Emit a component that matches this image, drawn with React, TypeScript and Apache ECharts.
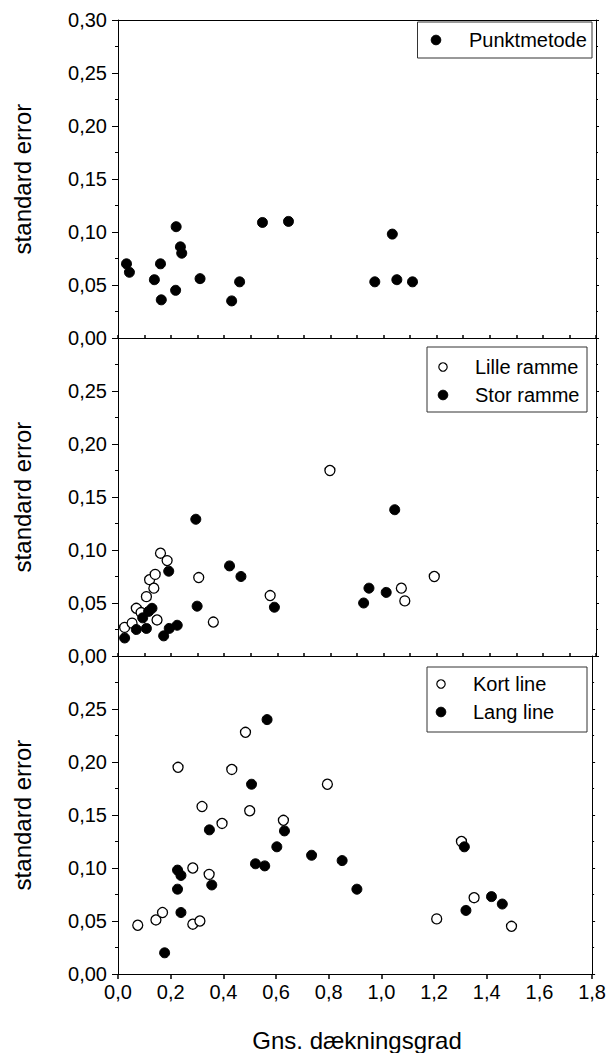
import React, { useEffect, useRef } from "react";
import * as echarts from "echarts";

// ---- Data ----
const punktX = [0.032, 0.043, 0.137, 0.16, 0.163, 0.217, 0.219, 0.235, 0.24, 0.309, 0.428, 0.458, 0.544, 0.642, 0.967, 1.033, 1.05, 1.109];
const punktY = [0.07, 0.062, 0.055, 0.07, 0.036, 0.045, 0.105, 0.086, 0.08, 0.056, 0.035, 0.053, 0.109, 0.11, 0.053, 0.098, 0.055, 0.053];

const lilleX = [0.025, 0.053, 0.069, 0.087, 0.107, 0.119, 0.135, 0.14, 0.147, 0.16, 0.185, 0.304, 0.359, 0.573, 0.798, 1.067, 1.08, 1.191];
const lilleY = [0.027, 0.031, 0.045, 0.041, 0.056, 0.072, 0.064, 0.077, 0.034, 0.097, 0.09, 0.074, 0.032, 0.057, 0.175, 0.064, 0.052, 0.075];

const storX = [0.025, 0.069, 0.093, 0.107, 0.115, 0.128, 0.172, 0.191, 0.193, 0.223, 0.293, 0.298, 0.42, 0.463, 0.589, 0.925, 0.945, 1.01, 1.042];
const storY = [0.017, 0.025, 0.036, 0.026, 0.042, 0.045, 0.019, 0.08, 0.026, 0.029, 0.129, 0.047, 0.085, 0.075, 0.046, 0.05, 0.064, 0.06, 0.138];

const kortX = [0.075, 0.144, 0.169, 0.228, 0.284, 0.284, 0.311, 0.319, 0.346, 0.395, 0.432, 0.484, 0.5, 0.628, 0.795, 1.21, 1.304, 1.352, 1.494];
const kortY = [0.046, 0.051, 0.058, 0.195, 0.1, 0.047, 0.05, 0.158, 0.094, 0.142, 0.193, 0.228, 0.154, 0.145, 0.179, 0.052, 0.125, 0.072, 0.045];

const langX = [0.177, 0.226, 0.226, 0.239, 0.239, 0.347, 0.356, 0.507, 0.522, 0.557, 0.566, 0.603, 0.632, 0.735, 0.851, 0.907, 1.315, 1.321, 1.418, 1.459];
const langY = [0.02, 0.098, 0.08, 0.093, 0.058, 0.136, 0.084, 0.179, 0.104, 0.102, 0.24, 0.12, 0.135, 0.112, 0.107, 0.08, 0.12, 0.06, 0.073, 0.066];

const xTicks = { min: 0, max: 1.8, interval: 0.2 };
const yTicks = { min: 0, max: 0.3, interval: 0.05 };

const yTitle = "standard error";
const xTitle = "Gns. dækningsgrad";

const FONT = "'Liberation Sans', Arial, Helvetica, sans-serif";

const zip = (xs: number[], ys: number[]) => xs.map((x, i) => [x, ys[i]]);

const GRID_LEFT = 118;
const GRID_W = 478;
const GRID_TOPS = [20, 338, 656];
const GRID_H = 318;

export default function App() {
  const ref = useRef<HTMLDivElement>(null);

  useEffect(() => {
    document.body.style.margin = "0";
    if (!ref.current) return;
    const chart = echarts.init(ref.current, undefined, { renderer: "svg" });

    const grids = GRID_TOPS.map((t) => ({ left: GRID_LEFT, top: t, width: GRID_W, height: GRID_H }));

    const xAxes: any[] = [];
    const yAxes: any[] = [];
    GRID_TOPS.forEach((_, i) => {
      const isBottom = i === 2;
      xAxes.push({
        type: "value",
        gridIndex: i,
        position: "bottom",
        min: xTicks.min,
        max: xTicks.max,
        interval: xTicks.interval,
        axisLine: { show: true, onZero: false, lineStyle: { color: "#000", width: 1 } },
        axisTick: { show: true, inside: !isBottom, length: isBottom ? 5 : 3, lineStyle: { color: "#000", width: 1.5 } },
        minorTick: { show: !isBottom, splitNumber: 2, length: 3, lineStyle: { color: "#000", width: 1.5 } },
        splitLine: { show: false },
        axisLabel: {
          show: isBottom,
          margin: 8,
          color: "#000",
          fontFamily: FONT,
          fontSize: 20,
          formatter: (v: number) => v.toFixed(1).replace(".", ","),
        },
      });
      xAxes.push({
        type: "value",
        gridIndex: i,
        position: "top",
        min: xTicks.min,
        max: xTicks.max,
        interval: xTicks.interval,
        axisLine: { show: true, onZero: false, lineStyle: { color: "#000", width: 1 } },
        axisTick: { show: false },
        axisLabel: { show: false },
        splitLine: { show: false },
      });
      yAxes.push({
        type: "value",
        gridIndex: i,
        position: "left",
        min: yTicks.min,
        max: yTicks.max,
        interval: yTicks.interval,
        axisLine: { show: true, onZero: false, lineStyle: { color: "#000", width: 1 } },
        axisTick: { show: true, inside: false, length: 6, lineStyle: { color: "#000", width: 1 } },
        minorTick: { show: true, splitNumber: 2, length: 3, lineStyle: { color: "#000", width: 1 } },
        splitLine: { show: false },
        axisLabel: {
          margin: 11,
          color: "#000",
          fontFamily: FONT,
          fontSize: 20,
          formatter: (v: number) => (i > 0 && v > 0.299 ? "" : v.toFixed(2).replace(".", ",")),
        },
      });
      yAxes.push({
        type: "value",
        gridIndex: i,
        position: "right",
        min: yTicks.min,
        max: yTicks.max,
        interval: yTicks.interval,
        axisLine: { show: true, onZero: false, lineStyle: { color: "#000", width: 1 } },
        axisTick: { show: true, inside: false, length: 3, lineStyle: { color: "#000", width: 1 } },
        minorTick: { show: true, splitNumber: 2, length: 2, lineStyle: { color: "#000", width: 1 } },
        splitLine: { show: false },
        axisLabel: { show: false },
      });
    });

    const filled = { color: "#000", borderColor: "#000", borderWidth: 1, opacity: 1 };
    const open = { color: "#fff", borderColor: "#000", borderWidth: 1.3, opacity: 1 };

    const mk = (name: string, data: number[][], panel: number, style: any) => ({
      name,
      type: "scatter",
      xAxisIndex: panel * 2,
      yAxisIndex: panel * 2,
      data,
      symbol: "circle",
      symbolSize: 10,
      itemStyle: style,
      z: style === filled ? 3 : 2,
    });

    const series = [
      mk("Punktmetode", zip(punktX, punktY), 0, filled),
      mk("Lille ramme", zip(lilleX, lilleY), 1, open),
      mk("Stor ramme", zip(storX, storY), 1, filled),
      mk("Kort line", zip(kortX, kortY), 2, open),
      mk("Lang line", zip(langX, langY), 2, filled),
    ];

    const txt = (text: string, x: number, y: number, size: number) => ({
      type: "text",
      x,
      y,
      style: { text, fill: "#000", font: `${size}px ${FONT}`, textAlign: "left", textVerticalAlign: "middle" },
      z: 10,
    });

    const legendBox = (x: number, y: number, w: number, h: number, rows: { label: string; filled: boolean; cy: number }[], mx: number, tx: number) => [
      { type: "rect", shape: { x, y, width: w, height: h }, style: { fill: "#fff", stroke: "#333", lineWidth: 1 }, z: 9 },
      ...rows.map((r) => ({
        type: "circle",
        shape: { cx: mx, cy: r.cy, r: r.filled ? 4.8 : 4.2 },
        style: { fill: r.filled ? "#000" : "#fff", stroke: "#000", lineWidth: r.filled ? 1 : 1.2 },
        z: 10,
      })),
      ...rows.map((r) => txt(r.label, tx, r.cy, 20)),
    ];

    const graphic: any[] = [
      ...GRID_TOPS.map((t) => ({
        type: "text",
        x: 22,
        y: t + GRID_H / 2,
        rotation: Math.PI / 2,
        style: { text: yTitle, fill: "#000", font: `24px ${FONT}`, textAlign: "center", textVerticalAlign: "middle" },
        z: 10,
      })),
      {
        type: "text",
        x: 357,
        y: 1040,
        style: { text: xTitle, fill: "#000", font: `24px ${FONT}`, textAlign: "center", textVerticalAlign: "middle" },
        z: 10,
      },
      ...legendBox(417.5, 22, 174.5, 36, [{ label: "Punktmetode", filled: true, cy: 40 }], 436, 469),
      ...legendBox(427, 347, 160, 65, [
        { label: "Lille ramme", filled: false, cy: 367 },
        { label: "Stor ramme", filled: true, cy: 395 },
      ], 443, 475),
      ...legendBox(427, 667, 160, 65, [
        { label: "Kort line", filled: false, cy: 684 },
        { label: "Lang line", filled: true, cy: 712 },
      ], 441, 473),
    ];

    chart.setOption({
      animation: false,
      backgroundColor: "#fff",
      grid: grids,
      xAxis: xAxes,
      yAxis: yAxes,
      series,
      graphic,
    });

    return () => chart.dispose();
  }, []);

  return <div ref={ref} style={{ width: 609, height: 1053 }} />;
}
